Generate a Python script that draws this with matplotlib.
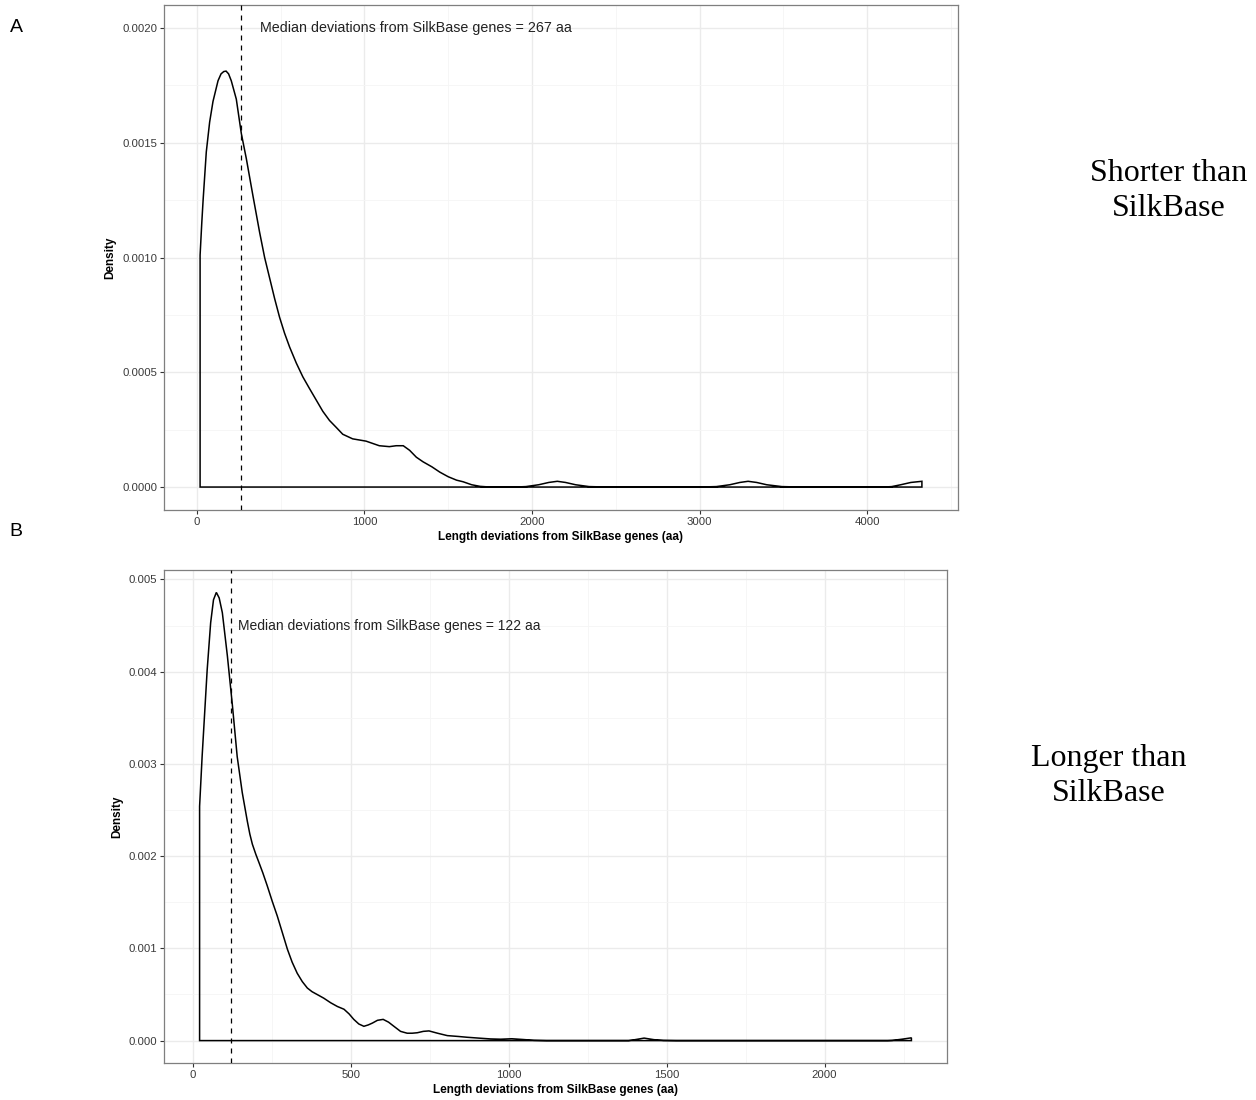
import matplotlib
matplotlib.use('Agg')
import matplotlib.pyplot as plt
from matplotlib.ticker import MultipleLocator, FormatStrFormatter

plt.rcParams['font.family'] = ['Liberation Sans', 'DejaVu Sans']

# ------- DATA ------- #
# A: genes shorter than SilkBase (density)
shorter_x = [20, 30, 38, 57, 77, 97, 127, 145, 161, 175, 190, 206, 236, 266,
             296, 335, 375, 405, 435, 465, 494, 524, 554, 594, 633, 672, 712,
             752, 792, 832, 871, 930, 1010, 1089, 1149, 1190, 1232, 1270,
             1310, 1350, 1403, 1450, 1500, 1550, 1589, 1640, 1690, 1750,
             1900, 1964, 2040, 2100, 2151, 2200, 2260, 2340, 2450, 3000,
             3100, 3180, 3240, 3289, 3340, 3400, 3490, 3600, 4100, 4146,
             4200, 4260, 4326]
shorter_density = [0.00101, 0.00115, 0.00125, 0.00146, 0.00159, 0.00168,
                   0.00177, 0.00180, 0.00181, 0.001812, 0.00180, 0.00177,
                   0.00169, 0.00154, 0.00143, 0.00127, 0.00111, 0.00100,
                   0.00091, 0.00082, 0.00074, 0.00067, 0.00061, 0.00054,
                   0.00048, 0.00043, 0.00038, 0.00033, 0.00029, 0.00026,
                   0.00023, 0.00021, 0.00020, 0.00018, 0.000176, 0.00018,
                   0.00018, 0.00016, 0.00013, 0.00011, 0.000088, 0.000065,
                   0.000045, 0.00003, 0.000023, 0.00001, 0.000003, 0.0, 0.0,
                   0.000002, 0.00001, 0.00002, 0.000025, 0.00002, 0.00001,
                   0.000002, 0.0, 0.0, 0.000002, 0.00001, 0.00002, 0.000025,
                   0.00002, 0.00001, 0.000002, 0.0, 0.0, 0.000002, 0.00001,
                   0.00002, 0.000025]
shorter_median = 267

# B: genes longer than SilkBase
longer_x = [22, 30, 38, 46, 57, 66, 75, 84, 94, 110, 126, 141, 157, 173, 181,
            189, 200, 210, 222, 236, 252, 268, 284, 300, 315, 331, 347, 363,
            378, 394, 415, 437, 458, 479, 495, 510, 526, 542, 556, 569, 585,
            603, 620, 637, 658, 679, 695, 711, 730, 748, 775, 806, 840, 869,
            905, 943, 975, 1010, 1045, 1080, 1120, 1380, 1400, 1429, 1460,
            1490, 1530, 2200, 2214, 2245, 2275]
longer_density = [0.00254, 0.00308, 0.00355, 0.00402, 0.00453, 0.00478,
                  0.00486, 0.00480, 0.00464, 0.00417, 0.00363, 0.00308,
                  0.00269, 0.00238, 0.00224, 0.00213, 0.00202, 0.00193,
                  0.00182, 0.00168, 0.00151, 0.00135, 0.00117, 0.00099,
                  0.00085, 0.00073, 0.00064, 0.00057, 0.00053, 0.00050,
                  0.00046, 0.00041, 0.00037, 0.00034, 0.00029, 0.00023,
                  0.00018, 0.000155, 0.00017, 0.00019, 0.00022, 0.00023,
                  0.00020, 0.000155, 0.00010, 0.00008, 0.00008, 0.000085,
                  0.00010, 0.000105, 0.00008, 0.000054, 0.000045, 0.000036,
                  0.000027, 0.000018, 0.000015, 0.00002, 0.000012, 0.000003,
                  0.0, 0.0, 0.00001, 0.000027, 0.00001, 0.000002, 0.0, 0.0,
                  0.000002, 0.000015, 0.00003]
longer_median = 122

grid_major = '#EBEBEB'
grid_minor = '#F5F5F5'
frame_color = '#333333'
tick_color = '#3A3A3A'


# ------- PLOT DENSITY PANEL ------- #
def plot_density(ax, x, y, median, text_xy, text_size, xmajor, ymajor, yfmt):
    # closed density outline (ggplot style, with baseline)
    ax.fill([x[0]] + x + [x[-1]], [0] + y + [0],
            facecolor='none', edgecolor='black', lw=1.1, zorder=3)
    # median line + annotation
    ax.axvline(median, color='black', lw=0.9, ls=(0, (4, 4)), zorder=4)
    ax.text(text_xy[0], text_xy[1],
            f'Median deviations from SilkBase genes = {median} aa',
            ha='left', va='center', fontsize=text_size, color='#222222',
            zorder=5)

    # limits with 5% expansion
    span = x[-1] - x[0]
    ax.set_xlim(x[0] - 0.05 * span, x[-1] + 0.05 * span)
    ytop = max(max(y), text_xy[1])
    ax.set_ylim(-0.05 * ytop, 1.05 * ytop)

    # ticks and grid
    ax.xaxis.set_major_locator(MultipleLocator(xmajor))
    ax.xaxis.set_minor_locator(MultipleLocator(xmajor / 2))
    ax.yaxis.set_major_locator(MultipleLocator(ymajor))
    ax.yaxis.set_minor_locator(MultipleLocator(ymajor / 2))
    ax.yaxis.set_major_formatter(FormatStrFormatter(yfmt))
    ax.grid(which='major', color=grid_major, lw=1.0, zorder=0)
    ax.grid(which='minor', color=grid_minor, lw=0.6, zorder=0)
    ax.set_axisbelow(True)
    ax.tick_params(axis='both', which='major', labelsize=8.2,
                   labelcolor=tick_color, color=frame_color,
                   length=3, width=0.8, pad=2)
    ax.tick_params(axis='both', which='minor', length=0)
    for spine in ax.spines.values():
        spine.set_color('#7F7F7F')
        spine.set_linewidth(0.9)

    ax.set_xlabel('Length deviations from SilkBase genes (aa)',
                  fontsize=8.5, fontweight='bold', labelpad=3)
    ax.set_ylabel('Density', fontsize=8.5, fontweight='bold', labelpad=4)


fig = plt.figure(figsize=(12.56, 11), dpi=100)
fig.set_facecolor('white')

ax1 = fig.add_axes([164 / 1256, 1 - 510 / 1100, 794 / 1256, 505 / 1100])
plot_density(ax1, shorter_x, shorter_density, shorter_median,
             (375, 0.0020), 10.3, 1000, 0.0005, '%.4f')

ax2 = fig.add_axes([164 / 1256, 1 - 1063 / 1100, 783 / 1256, 493 / 1100])
plot_density(ax2, longer_x, longer_density, longer_median,
             (142, 0.0045), 10.0, 500, 0.001, '%.3f')

# panel letters
fig.text(16 / 1256, 1 - 28 / 1100, 'A', ha='center', va='center', fontsize=14)
fig.text(16 / 1256, 1 - 532 / 1100, 'B', ha='center', va='center', fontsize=14)

# side labels
fig.text(1169 / 1256, 1 - 191 / 1100, 'Shorter than\nSilkBase',
         ha='center', va='center', fontsize=23, family='Liberation Serif',
         linespacing=1.27)
fig.text(1109 / 1256, 1 - 776 / 1100, 'Longer than\nSilkBase',
         ha='center', va='center', fontsize=23, family='Liberation Serif',
         linespacing=1.27)

plt.savefig('out.png', dpi=100)
